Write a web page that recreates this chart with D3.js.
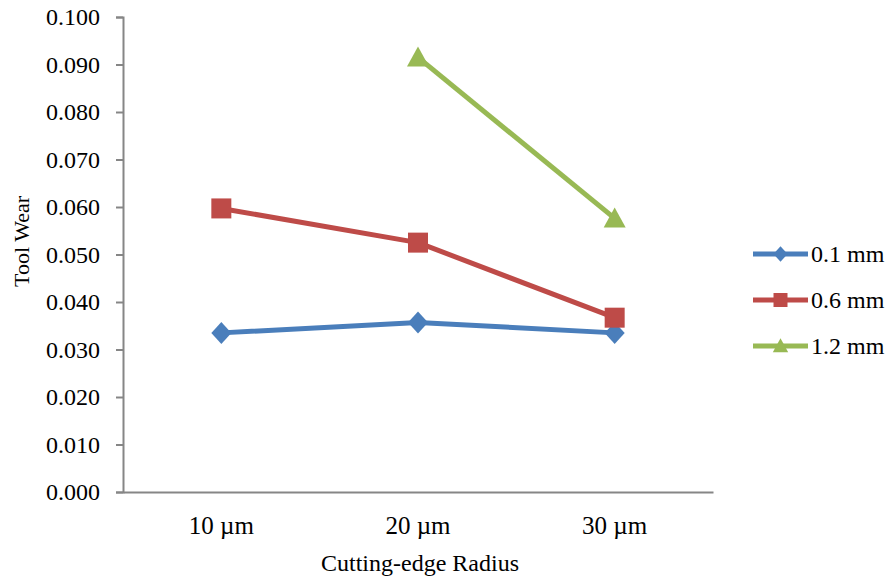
<!DOCTYPE html>
<html>
<head>
<meta charset="utf-8">
<script src="https://cdn.jsdelivr.net/npm/d3@7"></script>
<style>
  html, body { margin: 0; padding: 0; background: #fff; }
  svg text { font-family: "Liberation Serif", "Times New Roman", serif; fill: #000; }
</style>
</head>
<body>
<svg id="chart" width="894" height="581"></svg>
<script>
// Cutting-edge radius categories
const categories = ["10 µm", "20 µm", "30 µm"];
// Tool wear per feed / depth series (null = not measured)
const seriesNames = ["0.1 mm", "0.6 mm", "1.2 mm"];
const wear01 = [0.0335, 0.0357, 0.0335];
const wear06 = [0.0597, 0.0525, 0.0367];
const wear12 = [null, 0.0915, 0.0576];
const seriesColors = ["#4A7EBB", "#BE4B48", "#98B954"];
const markerShapes = ["diamond", "square", "triangle"];
const yTicks = [0, 0.01, 0.02, 0.03, 0.04, 0.05, 0.06, 0.07, 0.08, 0.09, 0.1];

const series = seriesNames.map((name, i) => ({
  name,
  values: [wear01, wear06, wear12][i],
  color: seriesColors[i],
  shape: markerShapes[i]
}));

const svg = d3.select("#chart");
const margin = { left: 123, right: 181, top: 17, bottom: 89 };
const W = 894, H = 581;

const x = d3.scaleBand().domain(categories).range([margin.left, W - margin.right]);
const y = d3.scaleLinear().domain([0, 0.1]).range([H - margin.bottom, margin.top]);

const axisColor = "#868686";

// Y axis
const yAxis = svg.append("g")
  .attr("transform", `translate(${margin.left},0)`)
  .call(d3.axisLeft(y).tickValues(yTicks).tickFormat(d3.format(".3f")).tickSize(7).tickPadding(16));
yAxis.select(".domain").attr("stroke", axisColor).attr("stroke-width", 2);
yAxis.selectAll(".tick line").attr("stroke", axisColor).attr("stroke-width", 2);
yAxis.selectAll(".tick text").style("font-size", "24px").attr("font-family", null);

// X axis
const xAxis = svg.append("g")
  .attr("transform", `translate(0,${H - margin.bottom})`)
  .call(d3.axisBottom(x).tickSize(0).tickPadding(24).tickSizeOuter(0));
xAxis.select(".domain").attr("stroke", axisColor).attr("stroke-width", 2);
xAxis.selectAll(".tick text").style("font-size", "25px").attr("font-family", null);

// Axis titles
svg.append("text")
  .attr("transform", `translate(29,${(margin.top + H - margin.bottom) / 2 - 13}) rotate(-90)`)
  .attr("text-anchor", "middle")
  .style("font-size", "22px")
  .text("Tool Wear");

svg.append("text")
  .attr("x", (margin.left + W - margin.right) / 2 + 2)
  .attr("y", 571)
  .attr("text-anchor", "middle")
  .style("font-size", "24px")
  .text("Cutting-edge Radius");

// Marker shapes
function markerPath(shape) {
  if (shape === "diamond") return "M0,-11L10,0L0,11L-10,0Z";
  if (shape === "square") return "M-10,-10H10V10H-10Z";
  return "M0,-11L11,9H-11Z";
}

const cx = d => x(d) + x.bandwidth() / 2;
const line = d3.line()
  .defined(d => d.v != null)
  .x(d => cx(d.c))
  .y(d => y(d.v));

series.forEach(s => {
  const pts = categories.map((c, i) => ({ c, v: s.values[i] }));
  svg.append("path")
    .datum(pts)
    .attr("fill", "none")
    .attr("stroke", s.color)
    .attr("stroke-width", 5)
    .attr("stroke-linejoin", "round")
    .attr("d", line);
  svg.selectAll(null)
    .data(pts.filter(p => p.v != null))
    .enter().append("path")
    .attr("transform", p => `translate(${cx(p.c)},${y(p.v)})`)
    .attr("d", markerPath(s.shape))
    .attr("fill", s.color);
});

// Legend
const legend = svg.append("g").attr("transform", "translate(753,254)");
series.forEach((s, i) => {
  const g = legend.append("g").attr("transform", `translate(0,${i * 46})`);
  g.append("line").attr("x1", 0).attr("x2", 55).attr("y1", 0).attr("y2", 0)
    .attr("stroke", s.color).attr("stroke-width", 5);
  g.append("path")
    .attr("transform", "translate(27.5,0) scale(0.7)")
    .attr("d", markerPath(s.shape))
    .attr("fill", s.color);
  g.append("text").attr("x", 58).attr("y", 0).attr("dy", "0.35em")
    .style("font-size", "24px").text(s.name);
});
</script>
</body>
</html>
